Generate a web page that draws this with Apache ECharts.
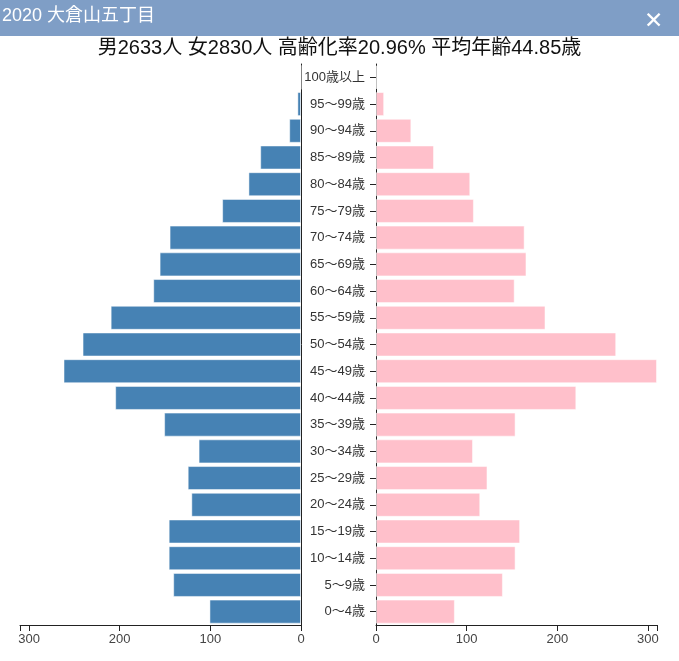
<!DOCTYPE html>
<html>
<head>
<meta charset="utf-8">
<script src="https://cdn.jsdelivr.net/npm/echarts@6/dist/echarts.min.js"></script>
<style>
  html, body { margin: 0; padding: 0; background: #fff; }
  #chart { width: 679px; height: 661px; }
</style>
</head>
<body>
<div id="chart"></div>
<script>
const ages = ['0〜4歳','5〜9歳','10〜14歳','15〜19歳','20〜24歳','25〜29歳','30〜34歳','35〜39歳','40〜44歳','45〜49歳',
  '50〜54歳','55〜59歳','60〜64歳','65〜69歳','70〜74歳','75〜79歳','80〜84歳','85〜89歳','90〜94歳','95〜99歳','100歳以上'];
const male = [101,141,146,146,121,125,113,151,205,262,241,210,163,156,145,87,58,45,13,4,0];
const female = [87,140,154,159,115,123,107,154,221,310,265,187,153,166,164,108,104,64,39,9,1];
const axisMax = 310;
const heading = '2020 大倉山五丁目';
const summary = '男2633人 女2830人 高齢化率20.96% 平均年齢44.85歳';

const FONT = "'Liberation Sans', 'Noto Sans CJK JP', sans-serif";
const chart = echarts.init(document.getElementById('chart'), null, { renderer: 'canvas' });

const valueAxis = (gridIndex, inverse) => ({
  type: 'value', gridIndex, inverse, min: 0, max: axisMax, interval: 100,
  axisLine: { show: true, lineStyle: { color: '#222', width: 1 } },
  axisTick: { show: true, length: 6, lineStyle: { color: '#222' } },
  splitLine: { show: false },
  axisLabel: {
    color: '#444', fontSize: 13, fontFamily: FONT, margin: 8,
    formatter: v => (v % 100 === 0 ? String(v) : '')
  }
});

chart.setOption({
  animation: false,
  textStyle: { fontFamily: FONT },
  graphic: [
    { type: 'rect', left: 0, top: 0, shape: { width: 679, height: 36 }, style: { fill: '#7f9ec6' }, z: -1 },
    { type: 'text', left: 644, top: 11, style: { text: '✕', fill: '#fff', font: "bold 23px 'DejaVu Sans'" } }
  ],
  title: [
    { text: heading, left: 0, top: 7, padding: [0, 2],
      textStyle: { color: '#fff', fontSize: 18, fontWeight: 'normal', fontFamily: FONT } },
    { text: summary, left: 'center', top: 38, padding: 0,
      textStyle: { color: '#111', fontSize: 20, fontWeight: 'normal', fontFamily: FONT } }
  ],
  grid: [
    { left: 20, width: 281, top: 64, height: 561 },
    { left: 376, width: 281, top: 64, height: 561 }
  ],
  xAxis: [valueAxis(0, true), valueAxis(1, false)],
  yAxis: [
    { type: 'category', gridIndex: 0, data: ages, position: 'right',
      axisLine: { show: true, lineStyle: { color: '#222' } },
      axisTick: { show: false }, axisLabel: { show: false } },
    { type: 'category', gridIndex: 1, data: ages, position: 'left',
      axisLine: { show: true, lineStyle: { color: '#222' } },
      axisTick: { show: true, alignWithLabel: true, length: 6, lineStyle: { color: '#222' } },
      axisLabel: { color: '#333', fontSize: 13, fontFamily: FONT, margin: 11 } }
  ],
  series: [
    { name: '男', type: 'bar', xAxisIndex: 0, yAxisIndex: 0, data: male, barCategoryGap: '10%',
      itemStyle: { color: '#4682b4', borderColor: 'rgba(255,255,255,0.5)', borderWidth: 1 } },
    { name: '女', type: 'bar', xAxisIndex: 1, yAxisIndex: 1, data: female, barCategoryGap: '10%',
      itemStyle: { color: '#ffc0cb', borderColor: 'rgba(255,255,255,0.5)', borderWidth: 1 } }
  ]
});
</script>
</body>
</html>
